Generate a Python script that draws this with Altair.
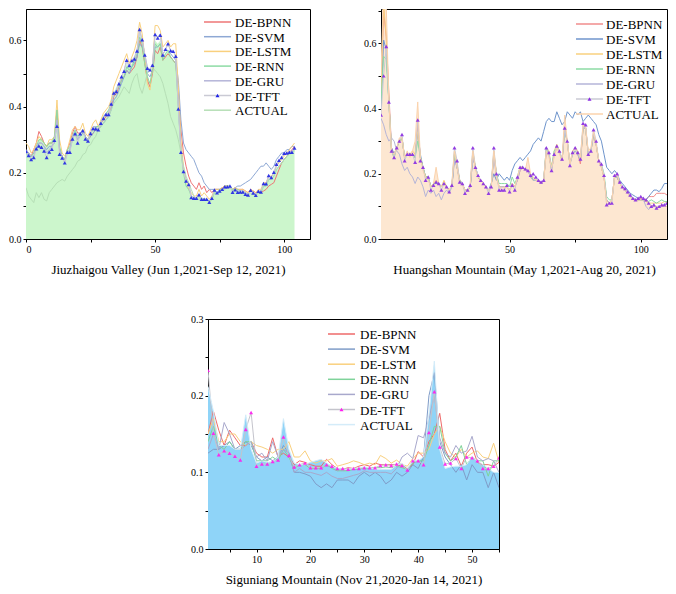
import altair as alt
import pandas as pd

SERIES = ["DE-BPNN", "DE-SVM", "DE-LSTM", "DE-RNN", "DE-GRU", "DE-TFT", "ACTUAL"]

# ---------------- Panel 1: Jiuzhaigou Valley (x = 0..104) ----------------
x1 = list(range(0, 105))
tft1 = [.265, .252, .240, .246, .273, .281, .277, .266, .246, .263,
        .271, .298, .341, .256, .245, .230, .262, .262, .302, .318,
        .290, .318, .327, .302, .296, .319, .334, .333, .330, .350,
        .364, .376, .376, .408, .441, .446, .469, .490, .507, .540,
        .524, .539, .544, .568, .633, .602, .556, .516, .511, .525,
        .618, .607, .616, .556, .573, .590, .569, .567, .552, .393,
        .262, .204, .175, .165, .125, .123, .123, .134, .120, .120,
        .120, .111, .123, .148, .140, .145, .150, .158, .158, .160,
        .141, .149, .141, .142, .142, .135, .133, .147, .139, .132,
        .144, .142, .168, .167, .192, .186, .202, .226, .238, .246,
        .259, .260, .262, .262, .275]
fill1 = [.27, .26, .25, .26, .28, .30, .31, .29, .28, .29,
         .30, .31, .39, .28, .25, .24, .27, .28, .31, .33,
         .31, .32, .33, .31, .30, .32, .33, .34, .34, .35,
         .37, .38, .39, .41, .44, .46, .47, .49, .50, .53,
         .52, .53, .55, .57, .62, .60, .55, .50, .47, .52,
         .60, .59, .60, .55, .56, .57, .55, .54, .53, .40,
         .27, .20, .17, .15, .13, .12, .12, .13, .12, .12,
         .12, .11, .12, .14, .14, .145, .15, .155, .155, .155,
         .145, .15, .145, .14, .14, .135, .13, .14, .135, .13,
         .14, .14, .16, .165, .18, .18, .19, .21, .22, .23,
         .24, .25, .255, .26, .27]
bpnn1 = [.27, .26, .25, .27, .29, .325, .31, .29, .28, .29,
         .29, .30, .39, .27, .25, .24, .27, .29, .32, .34,
         .32, .32, .33, .31, .30, .31, .32, .33, .33, .35,
         .36, .37, .38, .40, .43, .44, .46, .48, .49, .51,
         .50, .51, .52, .55, .60, .58, .53, .48, .46, .50,
         .57, .56, .58, .54, .55, .56, .55, .54, .53, .45,
         .33, .26, .22, .19, .17, .16, .15, .17, .15, .16,
         .14, .15, .14, .15, .15, .15, .155, .16, .16, .155,
         .15, .155, .15, .15, .15, .145, .14, .15, .145, .14,
         .14, .14, .145, .15, .16, .165, .17, .19, .21, .23,
         .24, .25, .26, .27, .28]
svm1 = [.26, .25, .25, .26, .27, .29, .29, .28, .27, .28,
        .28, .29, .35, .27, .25, .24, .26, .27, .30, .32,
        .30, .31, .32, .31, .30, .31, .32, .33, .33, .34,
        .35, .36, .37, .39, .42, .43, .45, .47, .49, .51,
        .50, .52, .53, .55, .59, .58, .55, .50, .49, .51,
        .58, .58, .59, .56, .57, .57, .56, .55, .54, .48,
        .36, .29, .27, .26, .25, .24, .22, .20, .19, .17,
        .16, .15, .15, .15, .15, .15, .15, .155, .155, .155,
        .15, .155, .16, .16, .165, .17, .175, .18, .19, .20,
        .21, .22, .22, .23, .22, .21, .22, .24, .25, .26,
        .26, .27, .27, .28, .28]
lstm1 = [.29, .28, .26, .27, .29, .31, .30, .29, .28, .30,
         .30, .31, .42, .30, .26, .25, .27, .30, .33, .34,
         .33, .33, .35, .32, .31, .33, .35, .36, .34, .36,
         .38, .39, .40, .42, .46, .48, .50, .52, .54, .56,
         .53, .55, .57, .60, .655, .62, .55, .47, .45, .52,
         .645, .645, .63, .58, .59, .60, .58, .59, .59, .46,
         .30, .22, .18, .15, .14, .13, .13, .15, .13, .14,
         .13, .12, .13, .15, .15, .15, .155, .16, .16, .16,
         .15, .155, .15, .15, .15, .145, .14, .15, .145, .14,
         .15, .15, .17, .17, .19, .19, .20, .22, .23, .24,
         .25, .26, .27, .28, .29]
rnn1 = [.27, .26, .25, .26, .28, .30, .30, .29, .28, .29,
        .29, .31, .39, .28, .25, .24, .27, .28, .31, .33,
        .31, .32, .33, .31, .30, .32, .33, .34, .34, .35,
        .37, .38, .39, .41, .44, .45, .46, .48, .49, .52,
        .51, .52, .54, .56, .61, .59, .53, .49, .47, .51,
        .59, .58, .59, .54, .56, .57, .55, .54, .53, .40,
        .27, .20, .16, .15, .13, .12, .12, .13, .12, .12,
        .12, .11, .12, .14, .14, .15, .15, .16, .16, .16,
        .15, .15, .15, .145, .145, .14, .135, .145, .14, .135,
        .14, .14, .16, .16, .18, .18, .19, .21, .22, .23,
        .24, .25, .26, .26, .27]
gru1 = [.27, .26, .25, .25, .28, .29, .29, .28, .26, .27,
        .28, .30, .36, .27, .25, .23, .26, .27, .31, .32,
        .30, .32, .33, .31, .30, .32, .34, .34, .33, .35,
        .37, .38, .38, .41, .44, .45, .47, .49, .51, .54,
        .52, .54, .55, .57, .63, .60, .56, .52, .51, .53,
        .62, .61, .62, .56, .57, .59, .57, .57, .55, .40,
        .27, .21, .18, .17, .13, .125, .125, .135, .12, .12,
        .12, .115, .125, .145, .14, .145, .15, .155, .155, .16,
        .145, .15, .145, .145, .145, .14, .135, .145, .14, .135,
        .145, .145, .165, .165, .19, .185, .20, .22, .235, .245,
        .255, .26, .265, .265, .275]
act1 = [.155, .13, .12, .11, .14, .125, .14, .12, .115, .14,
        .15, .16, .17, .175, .18, .175, .19, .20, .21, .22,
        .235, .24, .255, .26, .28, .285, .30, .31, .33, .34,
        .35, .36, .37, .39, .41, .42, .43, .445, .46, .45,
        .44, .47, .49, .50, .46, .44, .47, .50, .51, .515,
        .51, .50, .49, .47, .44, .41, .37, .35, .33, .30,
        .26, .22, .19, .17, .15, .13, .12, .12, .125, .12,
        .12, .115, .12, .14, .14, .145, .15, .15, .155, .155,
        .145, .15, .145, .14, .14, .135, .13, .14, .135, .13,
        .14, .14, .16, .16, .18, .18, .19, .21, .22, .23,
        .24, .25, .255, .26, .265]

# ---------------- Panel 2: Huangshan Mountain (x = 1..110) ----------------
x2 = list(range(1, 111))
tft2 = [.38, .50, .59, .42, .27, .25, .28, .30, .32, .24,
        .26, .26, .26, .235, .365, .24, .22, .18, .19, .15,
        .165, .175, .17, .15, .17, .16, .145, .165, .28, .24,
        .175, .17, .14, .15, .165, .28, .22, .195, .18, .17,
        .16, .14, .16, .28, .20, .15, .15, .15, .165, .145,
        .165, .15, .19, .22, .22, .215, .21, .195, .20, .19,
        .18, .175, .18, .28, .265, .21, .26, .285, .27, .245,
        .34, .30, .225, .265, .28, .265, .245, .355, .35, .26,
        .27, .335, .30, .24, .23, .195, .105, .11, .11, .195,
        .20, .175, .16, .155, .145, .135, .125, .12, .125, .13,
        .125, .12, .11, .10, .105, .095, .10, .105, .105, .11]
fill2 = [.50, .78, .72, .42, .27, .26, .28, .31, .31, .25,
         .27, .25, .27, .30, .42, .25, .21, .19, .18, .16,
         .17, .22, .17, .16, .17, .16, .15, .17, .27, .22,
         .17, .17, .15, .15, .17, .27, .21, .19, .18, .17,
         .16, .15, .16, .27, .19, .16, .15, .16, .16, .15,
         .17, .16, .19, .22, .22, .21, .25, .20, .19, .18,
         .18, .17, .18, .27, .25, .22, .25, .28, .26, .24,
         .38, .30, .23, .27, .28, .27, .25, .35, .34, .27,
         .28, .33, .29, .24, .22, .19, .11, .11, .12, .19,
         .20, .17, .16, .15, .14, .13, .12, .12, .12, .12,
         .12, .12, .11, .10, .105, .10, .10, .105, .10, .10]
bpnn2 = [.45, .70, .62, .45, .28, .26, .28, .30, .31, .25,
         .26, .26, .26, .25, .35, .25, .22, .19, .19, .16,
         .17, .17, .17, .16, .17, .16, .15, .16, .26, .22,
         .18, .17, .15, .15, .16, .26, .22, .19, .18, .17,
         .16, .15, .16, .26, .20, .16, .16, .16, .16, .15,
         .17, .16, .18, .21, .22, .21, .21, .19, .18, .18,
         .18, .17, .18, .27, .26, .21, .26, .28, .27, .24,
         .34, .30, .23, .26, .27, .26, .23, .34, .34, .26,
         .27, .32, .29, .24, .22, .19, .12, .11, .12, .19,
         .19, .17, .16, .15, .14, .13, .125, .12, .12, .125,
         .12, .12, .13, .13, .13, .14, .14, .14, .14, .135]
svm2 = [.40, .61, .58, .42, .28, .26, .28, .30, .31, .25,
        .26, .26, .26, .25, .33, .26, .22, .19, .19, .16,
        .17, .17, .17, .16, .17, .16, .15, .16, .25, .22,
        .18, .17, .15, .15, .16, .25, .22, .19, .18, .17,
        .16, .15, .17, .20, .18, .20, .19, .18, .19, .18,
        .21, .23, .24, .25, .24, .25, .26, .27, .29, .30,
        .31, .30, .33, .36, .37, .36, .36, .39, .37, .35,
        .36, .39, .38, .37, .39, .38, .39, .36, .37, .38,
        .37, .36, .35, .32, .30, .26, .22, .21, .20, .21,
        .20, .18, .17, .16, .15, .14, .135, .13, .125, .12,
        .12, .12, .13, .14, .15, .15, .145, .155, .17, .17]
lstm2 = [.45, .72, .62, .43, .27, .25, .28, .30, .31, .25,
         .26, .26, .27, .26, .33, .25, .22, .19, .19, .16,
         .17, .18, .17, .16, .18, .16, .15, .16, .27, .23,
         .18, .17, .15, .15, .16, .27, .22, .19, .18, .17,
         .16, .15, .16, .27, .20, .16, .16, .16, .16, .15,
         .17, .16, .19, .22, .22, .21, .21, .20, .18, .18,
         .18, .17, .18, .28, .27, .22, .27, .29, .27, .24,
         .33, .30, .23, .27, .28, .27, .24, .34, .34, .26,
         .27, .32, .29, .24, .22, .19, .12, .11, .12, .19,
         .19, .17, .16, .15, .14, .13, .125, .12, .12, .12,
         .12, .115, .11, .11, .11, .11, .11, .11, .115, .11]
rnn2 = [.42, .56, .55, .42, .27, .25, .28, .30, .31, .25,
        .26, .26, .26, .25, .30, .25, .22, .19, .19, .16,
        .17, .17, .17, .16, .17, .16, .15, .16, .26, .22,
        .18, .17, .15, .15, .16, .26, .22, .19, .18, .17,
        .16, .15, .16, .26, .20, .17, .17, .17, .17, .16,
        .19, .17, .19, .22, .22, .21, .21, .20, .18, .18,
        .18, .17, .18, .28, .26, .22, .27, .28, .27, .24,
        .33, .30, .23, .26, .27, .26, .24, .34, .34, .26,
        .27, .32, .29, .24, .23, .20, .13, .12, .12, .19,
        .19, .17, .16, .15, .14, .13, .125, .12, .12, .12,
        .12, .12, .115, .12, .115, .11, .115, .12, .115, .115]
gru2 = [.37, .35, .32, .30, .31, .30, .27, .26, .23, .21,
        .22, .20, .19, .17, .19, .18, .16, .13, .15, .14,
        .15, .13, .14, .12, .14, .15, .14, .16, .24, .22,
        .17, .17, .15, .15, .16, .25, .22, .19, .18, .17,
        .16, .15, .16, .25, .19, .16, .16, .16, .16, .15,
        .17, .16, .18, .21, .22, .21, .21, .19, .18, .18,
        .18, .17, .18, .27, .26, .21, .26, .28, .27, .24,
        .33, .30, .23, .26, .27, .26, .24, .34, .34, .26,
        .27, .32, .29, .24, .22, .19, .12, .11, .12, .19,
        .19, .17, .16, .15, .14, .13, .125, .12, .12, .12,
        .12, .10, .09, .10, .10, .10, .10, .10, .105, .105]

# ---------------- Panel 3: Siguniang Mountain (x = 1..55) ----------------
x3 = list(range(1, 56))
tft3 = [.233, .151, .123, .128, .125, .121, .116, .156, .178, .108,
        .111, .111, .114, .116, .146, .122, .107, .110, .112, .106,
        .106, .106, .110, .108, .105, .105, .104, .105, .105, .106,
        .106, .106, .109, .110, .109, .111, .109, .103, .115, .115,
        .110, .152, .205, .133, .111, .112, .118, .105, .120, .119,
        .115, .105, .105, .108, .119]
fill3 = [.212, .18, .135, .135, .135, .13, .13, .175, .13, .112,
         .115, .113, .114, .12, .17, .13, .112, .11, .11, .113,
         .115, .117, .112, .108, .105, .104, .104, .105, .106, .107,
         .106, .104, .104, .104, .104, .109, .112, .105, .115, .115,
         .12, .175, .245, .13, .105, .107, .108, .108, .11, .12,
         .115, .11, .105, .10, .10]
bpnn3 = [.15, .18, .155, .135, .155, .145, .135, .135, .14, .125,
         .12, .12, .145, .12, .125, .12, .11, .115, .113, .11,
         .108, .108, .117, .11, .105, .104, .106, .105, .108, .11,
         .108, .112, .11, .11, .11, .11, .108, .105, .11, .127,
         .12, .14, .15, .177, .13, .115, .125, .108, .125, .133,
         .113, .11, .11, .108, .113]
svm3 = [.125, .13, .13, .135, .14, .13, .135, .14, .135, .12,
        .115, .12, .115, .12, .135, .125, .10, .10, .098, .095,
        .085, .08, .085, .08, .09, .09, .09, .085, .095, .10,
        .095, .10, .095, .085, .09, .10, .095, .10, .11, .105,
        .12, .20, .23, .14, .12, .11, .10, .11, .09, .11,
        .10, .10, .08, .10, .08]
lstm3 = [.15, .17, .14, .14, .15, .15, .14, .135, .14, .135,
         .133, .13, .125, .13, .13, .14, .12, .12, .128, .115,
         .112, .115, .115, .118, .108, .11, .112, .115, .113, .11,
         .112, .11, .122, .118, .112, .116, .11, .108, .118, .125,
         .125, .13, .15, .16, .14, .125, .12, .13, .12, .125,
         .128, .12, .118, .138, .113]
rnn3 = [.14, .16, .135, .13, .14, .13, .13, .14, .14, .115,
        .115, .115, .12, .115, .13, .12, .105, .11, .11, .105,
        .105, .105, .11, .105, .102, .102, .102, .104, .104, .106,
        .105, .106, .106, .107, .106, .108, .106, .104, .112, .115,
        .115, .135, .16, .16, .125, .115, .12, .135, .11, .12,
        .115, .115, .095, .115, .115]
gru3 = [.13, .15, .13, .165, .15, .13, .13, .135, .14, .12,
        .125, .115, .14, .12, .13, .125, .10, .105, .10, .10,
        .098, .096, .10, .095, .092, .092, .094, .096, .098, .102,
        .10, .10, .10, .10, .098, .105, .12, .125, .118, .148,
        .145, .17, .20, .145, .125, .12, .135, .125, .128, .147,
        .12, .115, .118, .115, .10]

TITLES = ["Jiuzhaigou Valley (Jun 1,2021-Sep 12, 2021)",
          "Huangshan Mountain (May 1,2021-Aug 20, 2021)",
          "Siguniang Mountain (Nov 21,2020-Jan 14, 2021)"]

FONT = "Liberation Serif"


def long_df(x, named):
    rows = []
    for name, vals in named:
        assert len(vals) == len(x), (name, len(vals), len(x))
        for xi, v in zip(x, vals):
            rows.append({"x": xi, "y": v, "series": name})
    return pd.DataFrame(rows)


def panel(x, named, fill, tft, xdom, ydom, xticks, xmod, yticks, ylabel_expr,
          title, colors, fill_color, tft_color, width, height, lg):
    assert len(fill) == len(x) and len(tft) == len(x)
    xenc = alt.X("x:Q", scale=alt.Scale(domain=xdom, nice=False, zero=False),
                 axis=alt.Axis(values=xticks, title=title, grid=False,
                               labelExpr=f"datum.value % {xmod} == 0 ? datum.label : ''",
                               tickSize=3, labelPadding=2, titlePadding=9,
                               labelFont=FONT, labelFontSize=10, labelColor="black",
                               titleFont=FONT, titleFontSize=13,
                               titleFontWeight="normal", titleColor="black",
                               domainColor="black", tickColor="black"))
    yenc = alt.Y("y:Q", scale=alt.Scale(domain=ydom, nice=False, zero=True),
                 axis=alt.Axis(values=yticks, title=None, grid=False,
                               labelExpr=ylabel_expr, tickSize=3, labelPadding=2,
                               labelFont=FONT, labelFontSize=10, labelColor="black",
                               domainColor="black", tickColor="black"))
    cscale = alt.Scale(domain=SERIES, range=colors)
    area = alt.Chart(pd.DataFrame({"x": x, "y": fill})).mark_area(
        color=fill_color, opacity=1, clip=True).encode(x=xenc, y=yenc)
    lines = alt.Chart(long_df(x, named)).mark_line(strokeWidth=1, clip=True).encode(
        x=xenc, y=yenc, color=alt.Color("series:N", scale=cscale, legend=None))
    pts = alt.Chart(pd.DataFrame({"x": x, "y": tft})).mark_point(
        shape="triangle-up", filled=True, size=16, color=tft_color, opacity=0.9,
        clip=True).encode(x=xenc, y=yenc)
    data_layer = alt.layer(area, lines, pts)

    # legend drawn inside the plot, one row per series
    sx0, sx1, tx, ly0, pitch = lg
    leg_df = pd.DataFrame({"series": SERIES})
    ly = alt.Y("series:N", scale=alt.Scale(type="point", domain=SERIES,
                                          range=[ly0, ly0 + pitch * (len(SERIES) - 1)],
                                          padding=0), axis=None)
    leg_rule = alt.Chart(leg_df).mark_rule(strokeWidth=1.5).encode(
        x=alt.value(sx0), x2=alt.value(sx1), y=ly,
        color=alt.Color("series:N", scale=cscale, legend=None))
    leg_text = alt.Chart(leg_df).mark_text(
        align="left", baseline="middle", font=FONT, fontSize=13, color="black",
        dy=1).encode(x=alt.value(tx), y=ly, text="series:N")
    leg_tri = alt.Chart(leg_df).transform_filter(
        alt.datum.series == "DE-TFT").mark_point(
        shape="triangle-up", filled=True, size=16, color=tft_color, opacity=1).encode(
        x=alt.value((sx0 + sx1) / 2), y=ly)
    legend_layer = alt.layer(leg_rule, leg_text, leg_tri)

    return alt.layer(data_layer, legend_layer).resolve_scale(y="independent").properties(
        width=width, height=height)


Y_LBL_02 = "abs(round(datum.value * 10) % 2) == 0 ? format(datum.value, '.1f') : ''"
Y_LBL_01 = "abs(round(datum.value * 100) % 10) == 0 ? format(datum.value, '.1f') : ''"

c1 = ["#ee7676", "#8ea8d4", "#f9d07e", "#8ddba4", "#b5b5d8", "#cacad4", "#b6dfb6"]
c2 = ["#f08c8c", "#6f95cc", "#f9d07e", "#8ddba4", "#b5b5d8", "#cacad4", "#fbd3ad"]
c3 = ["#ee6a6a", "#7f9cc8", "#f9d07e", "#7fd39a", "#a8a8cc", "#c4c4cc", "#d4ecf9"]

p1 = panel(x1, [("DE-BPNN", bpnn1), ("DE-SVM", svm1), ("DE-LSTM", lstm1),
                ("DE-RNN", rnn1), ("DE-GRU", gru1), ("DE-TFT", tft1), ("ACTUAL", act1)],
           fill1, tft1, [0, 110], [0, 0.695], [0, 25, 50, 75, 100], 50,
           [0, .1, .2, .3, .4, .5, .6], Y_LBL_02, TITLES[0], c1,
           "#ccf6cc", "#1f23e6", 284, 230, (178, 205, 209, 13, 14.7))

p2 = panel(x2, [("DE-BPNN", bpnn2), ("DE-SVM", svm2), ("DE-LSTM", lstm2),
                ("DE-RNN", rnn2), ("DE-GRU", gru2), ("DE-TFT", tft2), ("ACTUAL", fill2)],
           fill2, tft2, [1, 110], [0, 0.705], [25, 50, 75, 100], 50,
           [0, .1, .2, .3, .4, .5, .6, .7], Y_LBL_02, TITLES[1], c2,
           "#fde7d1", "#8a2be2", 286, 230, (195, 222, 225, 15, 15))

p3 = panel(x3, [("DE-BPNN", bpnn3), ("DE-SVM", svm3), ("DE-LSTM", lstm3),
                ("DE-RNN", rnn3), ("DE-GRU", gru3), ("DE-TFT", tft3), ("ACTUAL", fill3)],
           fill3, tft3, [1, 55], [0, 0.3], [5, 10, 15, 20, 25, 30, 35, 40, 45, 50, 55], 10,
           [0, .05, .1, .15, .2, .25, .3], Y_LBL_01, TITLES[2], c3,
           "#8fd4f8", "#ff1cf0", 291, 230, (120, 147, 152, 15, 15.1))

spacer = alt.Chart(pd.DataFrame({"s": [0]})).mark_point(opacity=0).encode(
    x=alt.X("s:Q", axis=None), y=alt.Y("s:Q", axis=None)).properties(
    width=164, height=1, view=alt.ViewBackground(strokeOpacity=0))

row1 = alt.hconcat(p1, p2, spacing=52).resolve_scale(
    x="independent", y="independent", color="independent")
row2 = alt.hconcat(spacer, p3, spacing=0).resolve_scale(
    x="independent", y="independent", color="independent")

chart = alt.vconcat(row1, row2, spacing=36).resolve_scale(
    x="independent", y="independent", color="independent").properties(
    padding=0, background="white").configure_view(stroke="black", strokeWidth=1)

chart.save("out.html", embed_options={"renderer": "svg", "actions": False})
